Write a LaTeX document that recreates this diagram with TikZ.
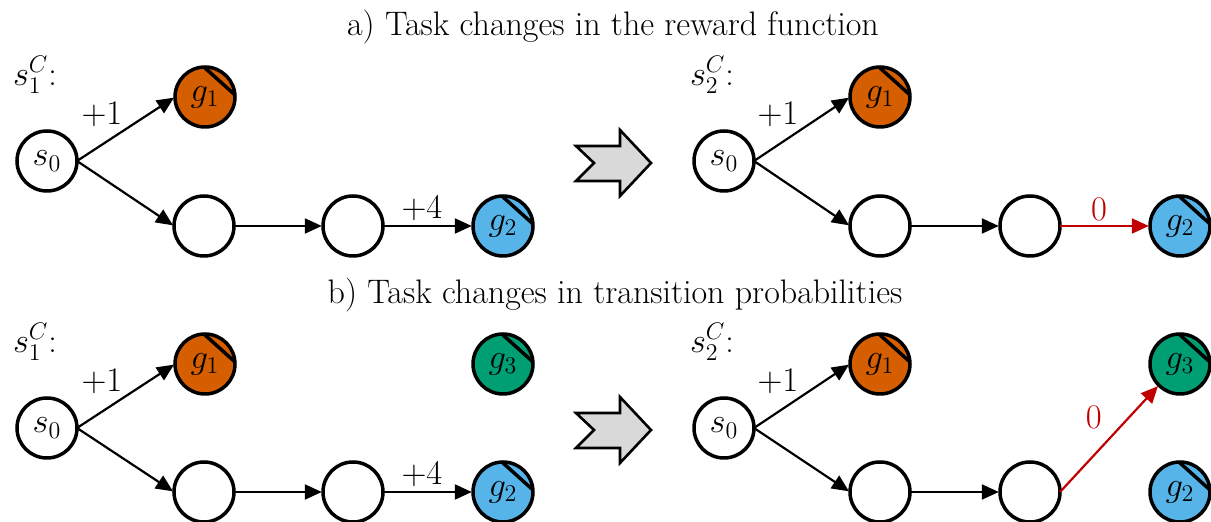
\documentclass[tikz,border=0pt]{standalone}
\usetikzlibrary{arrows.meta,positioning}
\definecolor{gorange}{HTML}{D55E00}
\definecolor{gblue}{HTML}{56B4E9}
\definecolor{ggreen}{HTML}{009E73}
\definecolor{redarr}{HTML}{C00000}
\definecolor{arrgrey}{HTML}{D9D9D9}
\begin{document}
\begin{tikzpicture}[x=0.5pt,y=-0.5pt,
  every node/.style={font=\fontsize{17}{20}\selectfont},
  st/.style={circle,draw,line width=1.75pt,minimum size=30pt,inner sep=0pt,outer sep=0pt,fill=white},
  goal/.style={st,fill=#1},
  tr/.style={line width=1.1pt,-{Triangle[length=8.5pt,width=7.5pt]},shorten >=0.6pt},
  rtr/.style={tr,draw=redarr,color=redarr},
  chord/.style={line width=1.75pt},
  bigarrow/.style={draw,line width=1.3pt,fill=arrgrey,line join=miter}]
\useasboundingbox (0,0) rectangle (1211,522);
% titles
\node (ta) at (613,27) {a) Task changes in the reward function};
\node (tb) at (615,295) {b) Task changes in transition probabilities};
% ---------- panel a, left
\node (la1) at (35,75) {$s_1^C$:};
\node[st] (a1s) at (47,161) {$s_0$};
\node[goal=gorange] (a1g1) at (205,97) {$g_1$};
\node[st] (a1m1) at (204,226) {};
\node[st] (a1m2) at (353,226) {};
\node[goal=gblue] (a1g2) at (503,226) {$g_2$};
\draw[tr] (a1s.east) -- node[midway,above left=-2.5pt and -2pt] (a1l1) {$+1$} (a1g1.west);
\draw[tr] (a1s.east) -- (a1m1.west);
\draw[tr] (a1m1) -- (a1m2);
\draw[tr] (a1m2) -- node[midway,above=-1pt,xshift=-3pt] (a1l2) {$+4$} (a1g2);
% ---------- panel a, right
\node (la2) at (712,75) {$s_2^C$:};
\node[st] (a2s) at (724,161) {$s_0$};
\node[goal=gorange] (a2g1) at (880,97) {$g_1$};
\node[st] (a2m1) at (880,226) {};
\node[st] (a2m2) at (1030,226) {};
\node[goal=gblue] (a2g2) at (1180,226) {$g_2$};
\draw[tr] (a2s.east) -- node[midway,above left=-2.5pt and -2pt] (a2l1) {$+1$} (a2g1.west);
\draw[tr] (a2s.east) -- (a2m1.west);
\draw[tr] (a2m1) -- (a2m2);
\draw[rtr] (a2m2) -- node[midway,above=-1pt,xshift=-3pt,text=redarr] (a2l2) {$0$} (a2g2);
% ---------- panel b, left
\node (lb1) at (35,342) {$s_1^C$:};
\node[st] (b1s) at (47,428) {$s_0$};
\node[goal=gorange] (b1g1) at (205,364) {$g_1$};
\node[goal=ggreen] (b1g3) at (503,364) {$g_3$};
\node[st] (b1m1) at (204,492) {};
\node[st] (b1m2) at (353,492) {};
\node[goal=gblue] (b1g2) at (503,492) {$g_2$};
\draw[tr] (b1s.east) -- node[midway,above left=-2.5pt and -2pt] (b1l1) {$+1$} (b1g1.west);
\draw[tr] (b1s.east) -- (b1m1.west);
\draw[tr] (b1m1) -- (b1m2);
\draw[tr] (b1m2) -- node[midway,above=-1pt,xshift=-3pt] (b1l2) {$+4$} (b1g2);
% ---------- panel b, right
\node (lb2) at (712,342) {$s_2^C$:};
\node[st] (b2s) at (724,428) {$s_0$};
\node[goal=gorange] (b2g1) at (880,364) {$g_1$};
\node[goal=ggreen] (b2g3) at (1180,364) {$g_3$};
\node[st] (b2m1) at (880,492) {};
\node[st] (b2m2) at (1030,492) {};
\node[goal=gblue] (b2g2) at (1180,492) {$g_2$};
\draw[tr] (b2s.east) -- node[midway,above left=-2.5pt and -2pt] (b2l1) {$+1$} (b2g1.west);
\draw[tr] (b2s.east) -- (b2m1.west);
\draw[tr] (b2m1) -- (b2m2);
\draw[rtr] (b2m2.east) -- node[midway,above left=1pt and 0pt,text=redarr] (b2l2) {$0$} (b2g3.south west);
% chords on goal nodes
\foreach \g in {a1g1,a1g2,a2g1,a2g2,b1g1,b1g3,b1g2,b2g1,b2g3,b2g2}
  \draw[chord] (\g.92) -- (\g.4);
% big arrows
\draw[bigarrow] (576,146) -- (620,146) -- (620,130) -- (651,163) -- (620,196) -- (620,181) -- (576,181) -- (594,163) -- cycle;
\draw[bigarrow] (576,413) -- (620,413) -- (620,397) -- (651,430) -- (620,463) -- (620,448) -- (576,448) -- (594,430) -- cycle;
\end{tikzpicture}
\end{document}
